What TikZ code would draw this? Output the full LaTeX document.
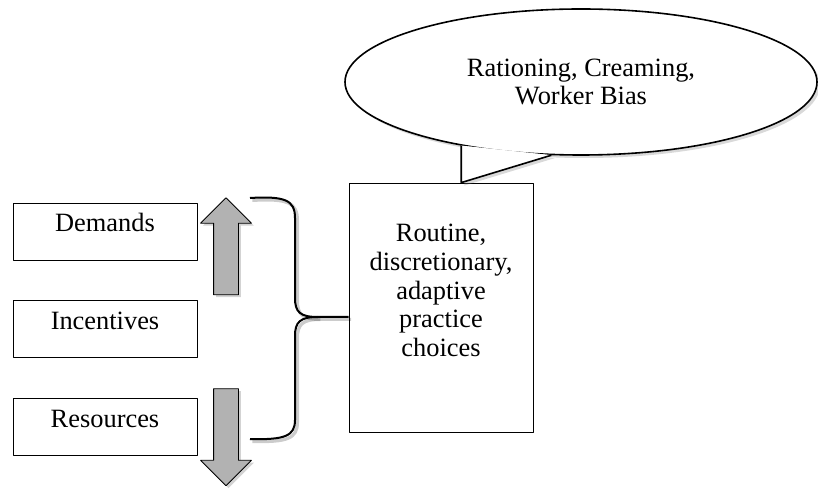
\documentclass[tikz,border=0pt]{standalone}
\usepackage{fontspec}
\setmainfont{Liberation Serif}
\usetikzlibrary{positioning,shapes.geometric,shapes.arrows,shadows}
\begin{document}
\begin{tikzpicture}[x=0.5pt,y=-0.5pt,line join=round,font=\fontsize{13.2}{14.4}\selectfont,
	node distance=20pt,
	sbox/.style={draw,minimum width=92pt,inner sep=0pt,text height=14.4pt,text depth=14.1pt},
	blockarrow/.style={single arrow,draw,fill=black!30,minimum width=25pt,minimum height=48.5pt,
		single arrow head extend=6.5pt,inner xsep=0pt,inner ysep=6pt,
		drop shadow={shadow xshift=1.2pt,shadow yshift=-1.2pt,opacity=.35}},
	bubble/.style={ellipse,draw,fill=white,line width=.8pt,minimum width=236pt,minimum height=73pt,
		inner sep=0pt,align=center,drop shadow={shadow xshift=1.5pt,shadow yshift=-1.5pt,opacity=.3}},
	bracket/.style={line width=1pt,preaction={draw,black,opacity=.2,line width=1.6pt,
		transform canvas={xshift=1.2pt,yshift=-1.2pt}}}]
	\useasboundingbox (0,0) rectangle (818,491);
	% left column
	\node[sbox] (dem) at (105,231.5) {Demands};
	\node[sbox,below=of dem] (inc) {Incentives};
	\node[sbox,below=of inc] (res) {Resources};
	\node[blockarrow,rotate=90] (up) at (226,252.5) {};
	\node[blockarrow,rotate=-90] (down) at (226,431) {};
	% practice box
	\node[draw,minimum width=92pt,minimum height=124.5pt] (choice) at (441,307.5) {};
	\node[align=center,inner sep=0pt,anchor=north,below=20.5pt of choice.north] (choicetxt)
		{Routine,\\discretionary,\\adaptive\\practice\\choices};
	% brace
	\coordinate (btop) at (250,198);
	\coordinate (bbot) at (250,439);
	\coordinate (bmid) at ([yshift=-4.75pt]choice.west);
	\draw[bracket] (btop) .. controls (285,196) and (295,200) .. (295,218) -- (295,298)
		.. controls (295,312) and (300,317) .. (318,317) -- (bmid);
	\draw[bracket] (318,317) .. controls (300,317) and (295,322) .. (295,336) -- (295,420)
		.. controls (295,436) and (285,440) .. (bbot);
	% callout
	\node[bubble] (bub) at (581,82) {Rationing, Creaming,\\Worker Bias};
	\coordinate (tip) at (bub.208 |- choice.north);
	\fill[white,drop shadow={shadow xshift=1.5pt,shadow yshift=-1.5pt,opacity=.3}] (bub.208) -- (tip) -- (bub.248) -- cycle;
	\fill[white] (bub.208) -- (tip) -- (bub.248) -- cycle;
	\draw[line width=.8pt] (bub.208) -- (tip) -- (bub.248);
\end{tikzpicture}
\end{document}
